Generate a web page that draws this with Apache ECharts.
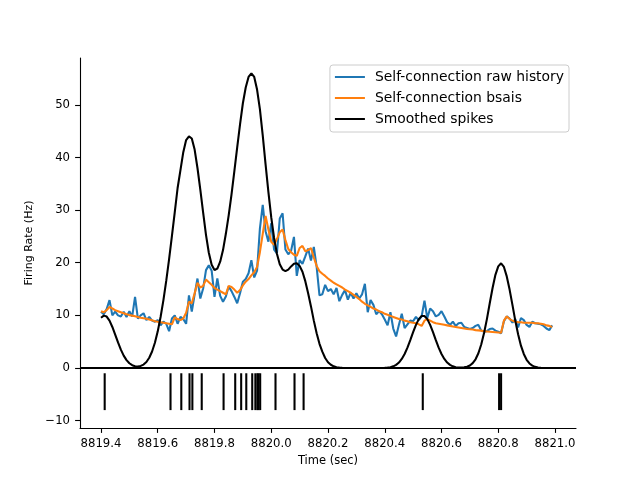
<!DOCTYPE html>
<html><head><meta charset="utf-8">
<script src="https://cdn.jsdelivr.net/npm/echarts@6/dist/echarts.min.js"></script>
<style>html,body{margin:0;padding:0;background:#fff}#c{width:640px;height:480px}</style>
</head><body><div id="c"></div>
<script>
// ---- data ----
const rawStart = 8819.40, rawStep = 0.01;
const rawHistory = [10.7, 10.2, 11.2, 12.9, 10.0, 10.7, 10.0, 9.8, 10.7, 9.7,
10.8, 9.8, 13.5, 9.4, 10.0, 10.4, 9.1, 9.7, 9.0, 8.8,
9.1, 8.1, 8.8, 8.4, 7.0, 9.4, 10.0, 8.4, 9.7, 9.3,
8.4, 13.8, 10.7, 14.0, 17.0, 13.2, 15.1, 18.6, 19.5, 18.5,
13.5, 17.0, 13.7, 12.6, 13.6, 15.5, 14.6, 13.5, 12.3, 14.2,
16.4, 16.9, 18.0, 20.5, 17.2, 18.5, 26.5, 31.0, 26.0, 24.0,
27.5, 22.5, 21.8, 28.4, 29.4, 22.5, 21.6, 22.3, 24.9, 17.5,
20.5, 19.8, 21.2, 22.7, 20.4, 23.0, 19.2, 13.8, 14.0, 15.8,
14.6, 15.0, 14.0, 15.2, 12.7, 13.9, 14.8, 13.0, 14.3, 13.2,
14.2, 13.2, 14.0, 16.0, 10.6, 12.9, 12.0, 10.2, 10.8, 10.2,
9.2, 8.1, 10.6, 7.5, 6.0, 8.2, 10.3, 7.6, 8.3, 9.0,
8.9, 9.7, 9.1, 9.8, 12.8, 9.5, 11.3, 10.8, 9.8, 10.1,
10.8, 9.8, 8.7, 8.2, 8.8, 8.0, 8.5, 8.6, 7.8, 7.6,
7.4, 7.6, 8.0, 8.2, 7.1, 6.9, 7.0, 7.4, 7.5, 7.1,
6.9, 6.6, 8.9, 9.8, 9.4, 8.6, 9.3, 7.7, 9.5, 9.1,
8.2, 7.8, 8.8, 8.5, 8.4, 8.3, 8.0, 7.5, 7.2, 8.1];
const bsais = [10.8, 10.6, 11.0, 11.6, 11.3, 11.0, 10.8, 10.6, 10.4, 10.2,
10.05, 9.95, 9.85, 9.7, 9.55, 9.45, 9.35, 9.2, 9.05, 8.9,
8.8, 8.7, 8.6, 8.5, 8.4, 8.3, 9.6, 9.3, 9.1, 9.4,
10.5, 12.6, 12.3, 14.2, 16.2, 15.3, 15.6, 16.8, 16.3, 15.8,
15.2, 14.9, 14.6, 14.3, 14.0, 15.6, 15.4, 14.9, 14.3, 14.8,
15.7, 16.4, 16.9, 17.6, 18.2, 19.2, 22.0, 25.5, 28.9, 26.3,
24.0, 23.4, 24.5, 25.8, 26.3, 24.3, 22.6, 22.0, 21.5, 21.3,
22.8, 23.2, 22.2, 22.4, 22.8, 21.0, 19.4, 18.4, 17.9, 17.5,
17.0, 16.6, 16.2, 15.9, 15.6, 15.3, 14.9, 14.6, 14.3, 13.9,
13.5, 13.1, 12.6, 12.2, 11.9, 11.6, 11.3, 11.1, 10.8, 10.6,
10.3, 10.1, 9.9, 9.7, 9.5, 9.3, 9.2, 9.0, 8.9, 8.7,
8.6, 8.5, 8.3, 8.0, 9.0, 9.3, 9.0, 8.7, 8.5, 8.4,
8.3, 8.2, 8.1, 8.0, 7.9, 7.8, 7.7, 7.6, 7.5, 7.4,
7.35, 7.3, 7.2, 7.15, 7.1, 7.0, 6.95, 6.9, 6.85, 6.8,
6.75, 6.7, 9.0, 9.8, 9.3, 9.0, 8.8, 8.7, 8.7, 8.6,
8.6, 8.6, 8.6, 8.5, 8.5, 8.4, 8.3, 8.1, 8.0, 7.8];
const smoothStart = 8819.40, smoothStep = 0.01;
const smoothedSpikes = [9.55, 9.95, 9.77, 8.99, 7.8, 6.35, 4.85, 3.49, 2.35, 1.5,
0.9, 0.53, 0.34, 0.29, 0.4, 0.65, 1.14, 1.95, 3.14, 4.79,
6.96, 9.69, 12.9, 16.6, 20.7, 25.1, 29.6, 34.2, 37.6, 41.0,
43.3, 44.0, 43.6, 41.5, 38.0, 33.9, 29.5, 25.3, 21.9, 19.6,
18.6, 18.9, 20.2, 22.4, 25.5, 29.0, 33.0, 37.4, 41.9, 46.3,
50.3, 53.3, 55.3, 56.0, 55.3, 52.9, 49.2, 44.2, 38.7, 33.4,
28.6, 24.7, 21.7, 19.7, 18.7, 18.4, 18.7, 19.3, 19.8, 19.9,
19.4, 18.3, 16.5, 14.2, 11.7, 9.0, 6.6, 4.6, 3.1, 1.9,
1.1, 0.62, 0.32, 0.15, 0.07, 0.03, 0.01, 0, 0, 0,
0, 0, 0, 0, 0, 0, 0, 0, 0, 0.01,
0.03, 0.08, 0.16, 0.32, 0.59, 1.04, 1.72, 2.66, 3.87, 5.29,
6.8, 8.2, 9.29, 9.89, 9.89, 9.29, 8.2, 6.8, 5.29, 3.87,
2.66, 1.72, 1.04, 0.59, 0.32, 0.16, 0.09, 0.08, 0.12, 0.25,
0.48, 0.93, 1.66, 2.8, 4.46, 6.64, 9.29, 12.3, 15.2, 17.7,
19.3, 19.9, 19.2, 17.4, 14.9, 12.0, 9.0, 6.4, 4.25, 2.67,
1.56, 0.86, 0.45, 0.22, 0.09, 0.04, 0.01, 0.01, 0, 0,
0];
const spikeTimes = [8819.413, 8819.645, 8819.683, 8819.712, 8819.722, 8819.755,
8819.832, 8819.873, 8819.894, 8819.912, 8819.933, 8819.944, 8819.951, 8819.955, 8819.961,
8820.015, 8820.082, 8820.114, 8820.534, 8820.803, 8820.810];
const rasterTop = -1, rasterBottom = -8;
const xTicks = [8819.4, 8819.6, 8819.8, 8820.0, 8820.2, 8820.4, 8820.6, 8820.8, 8821.0];
const yTicks = [-10, 0, 10, 20, 30, 40, 50];
const seriesNames = ['Self-connection raw history', 'Self-connection bsais', 'Smoothed spikes'];

// ---- build ----
const rawPts = rawHistory.map((v, i) => [rawStart + i * rawStep, v]);
const bsaisPts = bsais.map((v, i) => [rawStart + i * rawStep, v]);
const smPts = smoothedSpikes.map((v, i) => [smoothStart + i * smoothStep, v]);
const FONT = 'DejaVu Sans';
const LW = 2.08;
const chart = echarts.init(document.getElementById('c'), null, {renderer: 'canvas'});
chart.setOption({
  animation: false,
  backgroundColor: '#ffffff',
  grid: {left: 80, right: 64, top: 58, bottom: 52, containLabel: false},
  legend: {
    data: seriesNames, orient: 'vertical', right: 71, top: 65,
    backgroundColor: 'rgba(255,255,255,0.8)', borderColor: '#cccccc', borderWidth: 1, borderRadius: 3,
    padding: [4, 5, 5, 5], itemWidth: 30, itemHeight: 2, icon: 'rect', itemGap: 5,
    textStyle: {fontFamily: FONT, fontSize: 13.9, color: '#000', lineHeight: 16, padding: [0, 0, 0, 5]}
  },
  xAxis: {
    type: 'value', min: 8819.326, max: 8821.074,
    axisLine: {onZero: false, lineStyle: {color: '#000', width: 1.1}},
    axisTick: {show: true, length: 4.9, customValues: xTicks, lineStyle: {color: '#000', width: 1.1}},
    axisLabel: {customValues: xTicks, formatter: v => Number(v).toFixed(1), margin: 10, color: '#000', fontFamily: FONT, fontSize: 11.7},
    splitLine: {show: false},
    name: 'Time (sec)', nameLocation: 'middle', nameGap: 27,
    nameTextStyle: {fontFamily: FONT, fontSize: 11.5, color: '#000'}
  },
  yAxis: {
    type: 'value', min: -11.4, max: 58.9,
    axisLine: {show: true, lineStyle: {color: '#000', width: 1.1}},
    axisTick: {show: true, length: 4.9, customValues: yTicks, lineStyle: {color: '#000', width: 1.1}},
    axisLabel: {customValues: yTicks, formatter: v => (v < 0 ? '\u2212' + Math.abs(v) : String(v)), margin: 10, color: '#000', fontFamily: FONT, fontSize: 11.7},
    splitLine: {show: false},
    name: 'Firing Rate (Hz)', nameLocation: 'middle', nameGap: 38,
    nameTextStyle: {fontFamily: FONT, fontSize: 11, color: '#000'}
  },
  series: [
    {name: seriesNames[0], type: 'line', data: rawPts, showSymbol: false, color: '#1f77b4',
     lineStyle: {width: LW, color: '#1f77b4'},
     markLine: {silent: true, symbol: ['none', 'none'], label: {show: false},
       lineStyle: {color: '#000', width: LW, type: 'solid'}, data: [{yAxis: 0}]}},
    {name: seriesNames[1], type: 'line', data: bsaisPts, showSymbol: false, color: '#ff7f0e',
     lineStyle: {width: LW, color: '#ff7f0e'}},
    {name: seriesNames[2], type: 'line', data: smPts, showSymbol: false, smooth: false, color: '#000000',
     lineStyle: {width: LW, color: '#000000'}},
    {name: 'spikes', type: 'custom', silent: true,
     data: spikeTimes.map(t => [t, rasterTop, rasterBottom]),
     encode: {x: 0, y: [1, 2]},
     renderItem: (params, api) => {
       const p1 = api.coord([api.value(0), api.value(1)]);
       const p2 = api.coord([api.value(0), api.value(2)]);
       return {type: 'line', shape: {x1: p1[0], y1: p1[1], x2: p2[0], y2: p2[1]},
               style: {stroke: '#000', lineWidth: LW}};
     }}
  ]
});
</script></body></html>
